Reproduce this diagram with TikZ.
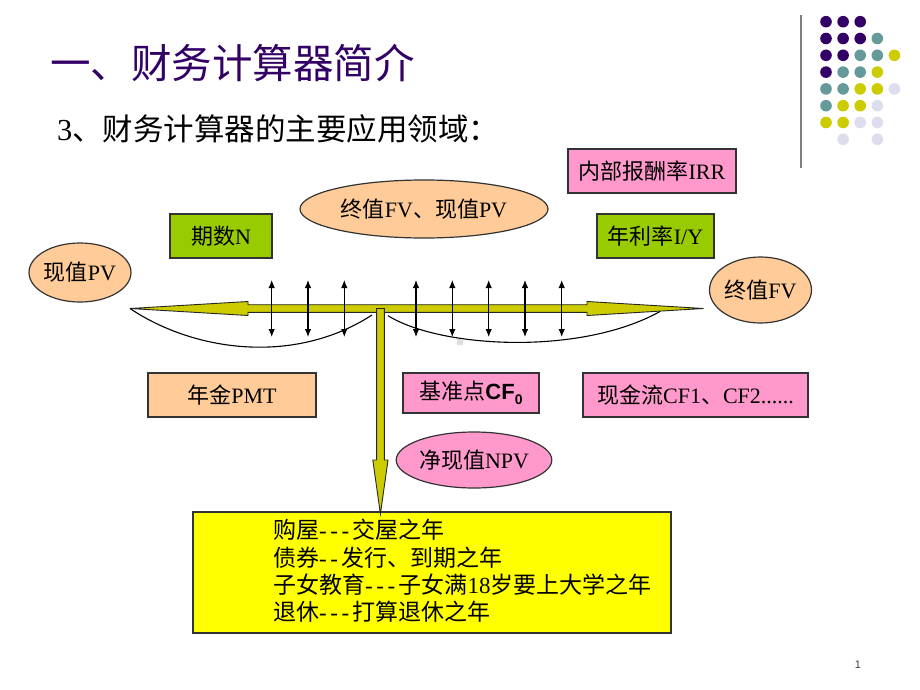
\documentclass[tikz,border=0pt]{standalone}
\usepackage{fontspec}
\setmainfont{Noto Sans CJK SC}
\newfontfamily\lat{Liberation Serif}
\newfontfamily\arialf{Liberation Sans}
\usetikzlibrary{shapes.geometric,arrows.meta}
\definecolor{peach}{HTML}{FFCC99}
\definecolor{lgreen}{HTML}{99CC00}
\definecolor{pinkc}{HTML}{FF99CC}
\definecolor{ybox}{HTML}{FFFF00}
\definecolor{yarrow}{HTML}{CCCC00}
\definecolor{titlepurple}{HTML}{330066}
\definecolor{dpurple}{HTML}{330066}
\definecolor{dteal}{HTML}{669999}
\definecolor{dolive}{HTML}{CCCC00}
\definecolor{dlav}{HTML}{DDDDEE}
\newcommand\myhy{-\kern3.5pt}
\tikzset{
  lbl/.style={font=\fontsize{22}{26}\selectfont, inner sep=0pt},
  rbox/.style={lbl, draw=black!80, line width=1.2pt, rectangle},
  ebox/.style={lbl, draw=black!80, line width=1.2pt, ellipse},
  yarr/.style={fill=yarrow, draw=black!85, line width=0.9pt, line join=miter},
  curvel/.style={draw=black, line width=1.1pt},
  varr/.style={draw=black, line width=1.1pt, {Latex[length=8pt,width=6.5pt]}-{Latex[length=8pt,width=6.5pt]}},
  dot/.style={circle, inner sep=0pt, minimum size=11.6pt},
  gline/.style={lbl, font=\fontsize{23}{26}\selectfont, anchor=west}
}
\begin{document}
\begin{tikzpicture}[x=1pt,y=-1pt]
\useasboundingbox (0,0) rectangle (920,690);
\fill[white] (0,0) rectangle (920,690);

% title
\node[anchor=west, inner sep=0pt, text=titlepurple, font=\fontsize{40.5}{44}\selectfont] (title) at (50,63) {一、财务计算器简介};
\node[anchor=west, inner sep=0pt, font=\fontsize{30.5}{34}\selectfont] (sub) at (57,129) {{\lat 3}、财务计算器的主要应用领域：};

% decoration
\draw[draw=black!50, line width=1.5pt] (801,15) -- (801,168);
\foreach \c/\r/\col in {1/1/dpurple,2/1/dpurple,3/1/dpurple,
  1/2/dpurple,2/2/dpurple,3/2/dpurple,4/2/dteal,
  1/3/dpurple,2/3/dpurple,3/3/dteal,4/3/dteal,5/3/dolive,
  1/4/dpurple,2/4/dteal,3/4/dteal,4/4/dolive,
  1/5/dteal,2/5/dteal,3/5/dolive,4/5/dolive,5/5/dlav,
  1/6/dteal,2/6/dolive,3/6/dolive,4/6/dlav,
  1/7/dolive,2/7/dolive,3/7/dlav,4/7/dlav,
  2/8/dlav,4/8/dlav}{
  \node[dot, fill=\col] (d\c\r) at ({826+17.1*(\c-1)},{21.7+16.8*(\r-1)}) {};
}

% nodes
\node[ebox, fill=peach, minimum width=95, minimum height=59] (pv) at (80,272.5) {现值{\lat PV}};
\node[rbox, fill=lgreen, minimum width=102, minimum height=44] (n) at (221,236) {期数{\lat N}};
\node[ebox, fill=peach, minimum width=248, minimum height=58] (fvpv) at (424,209) {终值{\lat FV}、现值{\lat PV}};
\node[rbox, fill=pinkc, minimum width=168, minimum height=44] (irr) at (652,171) {内部报酬率{\lat IRR}};
\node[rbox, fill=lgreen, minimum width=117, minimum height=44] (iy) at (655.5,236) {年利率{\lat I/Y}};
\node[ebox, fill=peach, minimum width=95, minimum height=66] (fv) at (760.5,290) {终值{\lat FV}};
\node[rbox, fill=peach, minimum width=168, minimum height=44] (pmt) at (232,395) {年金{\lat PMT}};
\node[rbox, fill=pinkc, minimum width=136, minimum height=40] (cf0) at (471,393) {基准点{\arialf\bfseries CF}{\arialf\bfseries\fontsize{14}{14}\selectfont\raisebox{-5pt}{0}}};
\node[rbox, fill=pinkc, minimum width=225, minimum height=44] (cf) at (695.5,395) {现金流{\lat CF1}、{\lat CF2......}};
\node[ebox, fill=pinkc, minimum width=117, minimum height=56] (npv) at (474,460) {净现值{\lat NPV}};
\node[rbox, fill=ybox, minimum width=478, minimum height=121] (goals) at (432,572.5) {};

\node[gline] (g1) at (273,530) {购屋{\lat\myhy\myhy\myhy}交屋之年};
\node[gline] (g2) at (273,557.5) {债券{\lat\myhy\myhy}发行、到期之年};
\node[gline] (g3) at (273,585) {子女教育{\lat\myhy\myhy\myhy}子女满{\lat 18}岁要上大学之年};
\node[gline] (g4) at (273,612) {退休{\lat\myhy\myhy\myhy}打算退休之年};

% timeline double arrow
\draw[yarr] (130,308.5) -- (248,301.5) -- (248,304.7) -- (587,304.7) -- (587,301.5) -- (703.5,308.5) -- (587,315.5) -- (587,312.3) -- (248,312.3) -- (248,315.5) -- cycle;

% curves
\draw[curvel] (130,308.5) .. controls (195,352) and (295,365) .. (372,315);
\draw[curvel] (388,315.7) .. controls (440,348) and (580,356) .. (660,311.5);

% vertical double arrows
\foreach \i/\xx in {1/271.7,2/308,3/344.3,4/416,5/452.3,6/488.7,7/525,8/561.7}{
  \coordinate (t\i) at (\xx,280);
  \coordinate (b\i) at (\xx,337);
  \draw[varr] (t\i) -- (b\i);
}

% stem arrow down to the goals box
\draw[yarr] (376.6,308.5) -- (384.3,308.5) -- (384.3,460) -- (388,460) -- (380.4,514) -- (372.8,460) -- (376.6,460) -- cycle;

% small grey mark
\fill[black!13] (457,339) rectangle (463,345);

% page number
\node[inner sep=0pt, text=black!75, font=\arialf\fontsize{11}{12}\selectfont] (pg) at (858,665) {1};
\end{tikzpicture}
\end{document}
